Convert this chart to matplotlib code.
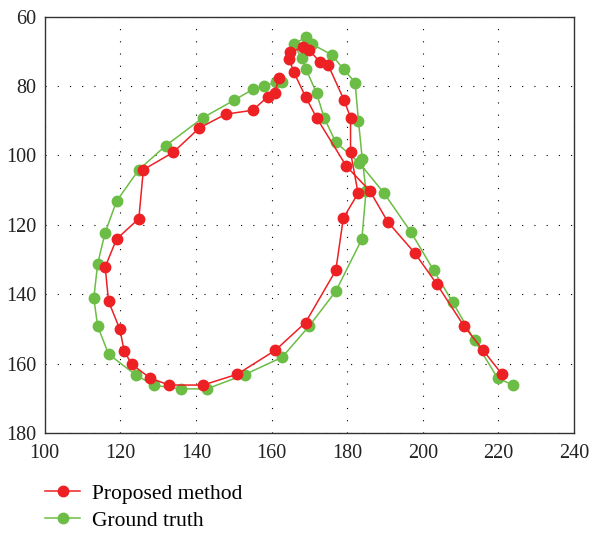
import numpy as np
import matplotlib
matplotlib.use('Agg')
import matplotlib.pyplot as plt

# trajectory points (x, y) for the two tracks
proposed_x = [220.9, 215.9, 210.9, 203.7, 197.9, 190.8, 186.0, 179.8, 171.9, 169.0,
              165.9, 164.6, 164.9, 168.4, 169.8, 172.9, 175.0, 179.2, 180.9, 180.9,
              182.9, 179.0, 177.0, 169.0, 161.0, 150.9, 141.9, 132.9, 127.9, 123.0,
              121.0, 119.9, 116.9, 116.0, 119.0, 124.9, 126.1, 134.0, 140.9, 147.9,
              155.0, 159.0, 160.9, 162.0]
proposed_y = [162.9, 156.0, 149.1, 137.0, 128.1, 119.2, 110.2, 103.1, 89.1, 83.1,
              76.0, 72.1, 70.2, 68.9, 69.5, 73.2, 74.0, 84.1, 89.1, 99.0,
              110.9, 118.0, 133.1, 148.1, 156.1, 163.0, 166.1, 166.1, 164.1, 160.1,
              156.2, 150.1, 142.0, 132.1, 124.1, 118.2, 104.1, 99.1, 92.1, 88.1,
              87.0, 83.1, 81.9, 77.6]

truth_x = [223.9, 219.8, 213.7, 207.9, 202.9, 196.9, 189.8, 183.2, 177.0, 173.9,
           171.9, 169.1, 168.0, 165.9, 169.0, 170.8, 175.9, 179.1, 182.1, 183.0,
           184.0, 185.0, 183.9, 177.0, 169.9, 162.8, 152.9, 142.9, 136.0, 129.0,
           124.1, 116.9, 114.0, 113.0, 114.0, 116.0, 119.0, 124.9, 132.0, 141.9,
           150.1, 155.0, 157.9, 161.1, 162.7]
truth_y = [166.1, 164.1, 153.2, 142.2, 133.1, 122.1, 110.9, 102.1, 96.2, 89.1,
           82.0, 75.1, 72.0, 68.0, 66.0, 68.0, 71.0, 75.2, 79.0, 90.0,
           101.1, 110.2, 124.1, 139.1, 149.2, 158.1, 163.1, 167.2, 167.2, 166.2,
           163.2, 157.2, 149.1, 141.1, 131.2, 122.2, 113.2, 104.1, 97.2, 89.1,
           84.1, 81.0, 80.1, 78.9, 78.9]

xticks = [100, 120, 140, 160, 180, 200, 220, 240]
yticks = [60, 80, 100, 120, 140, 160, 180]

plt.rcParams['font.family'] = ['Liberation Serif', 'DejaVu Serif']

fig = plt.figure(figsize=(5.99, 5.33), dpi=100)
ax = fig.add_axes([0.0746, 0.187, 0.8836, 0.782])

red = '#ED2024'
green = '#6CBD45'
ax.plot(proposed_x, proposed_y, '-o', color=red, lw=1.1, ms=7.5, mec=red,
        label='Proposed method', zorder=3)
ax.plot(truth_x, truth_y, '-o', color=green, lw=1.1, ms=7.5, mec=green,
        label='Ground truth', zorder=2)

ax.set_xlim(100, 240)
ax.set_ylim(180, 60)
ax.set_xticks(xticks)
ax.set_yticks(yticks)
ax.grid(True, color='black', linestyle=(0, (1, 10)), linewidth=0.8)
ax.tick_params(length=0, labelsize=14.5, colors='#222222')
ax.tick_params(axis='x', pad=8)
ax.tick_params(axis='y', pad=6)
for s in ax.spines.values():
    s.set_color('#333333')
    s.set_linewidth(1.0)

fig.legend(loc='upper left', bbox_to_anchor=(0.075, 0.092), frameon=False,
           handlelength=1.65, handletextpad=0.55, labelspacing=0.3,
           borderaxespad=0, borderpad=0, fontsize=15.5)

fig.savefig('out.png', dpi=100)
